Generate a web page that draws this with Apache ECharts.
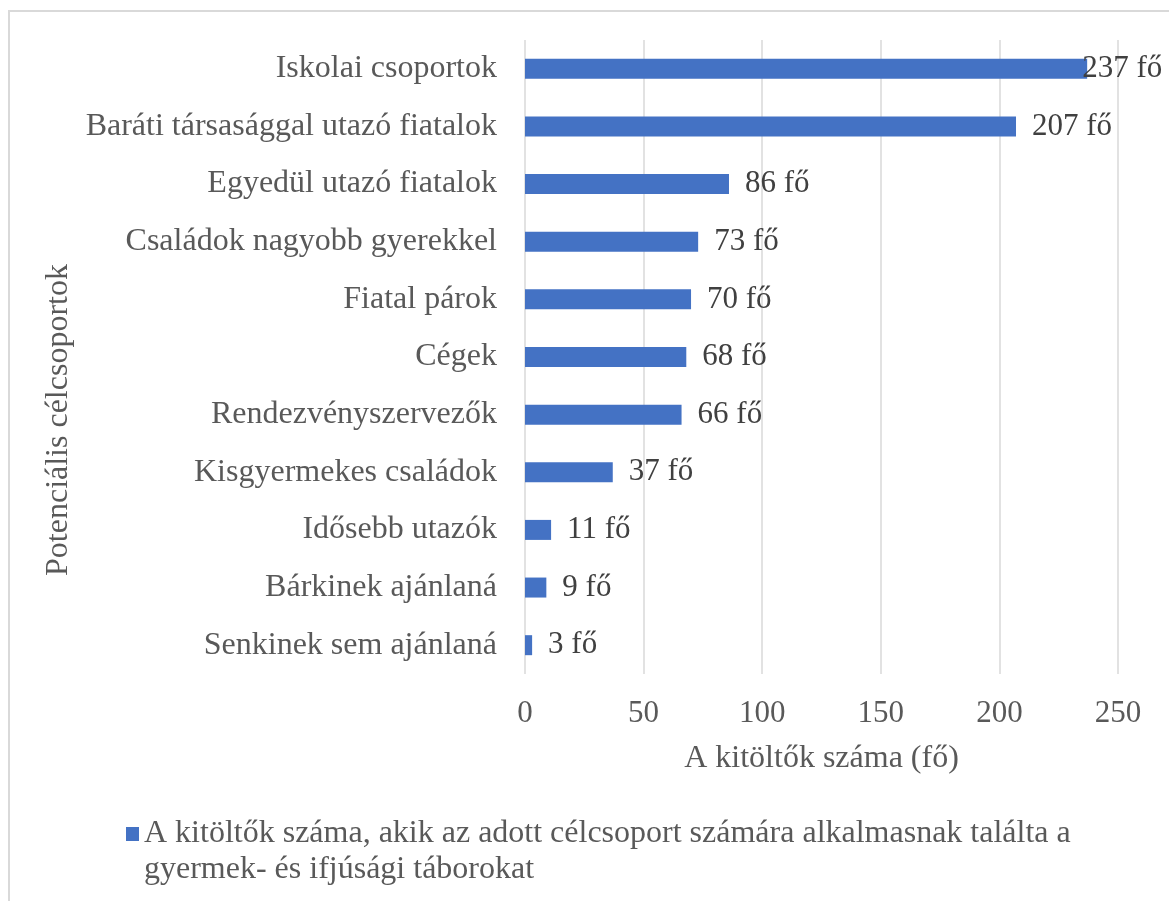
<!DOCTYPE html>
<html>
<head>
<meta charset="utf-8">
<script src="https://cdn.jsdelivr.net/npm/echarts@6/dist/echarts.min.js"></script>
<style>
  html, body { margin: 0; padding: 0; background: #fff; }
  .frame {
    position: absolute; left: 8px; top: 10px; width: 1180px; height: 900px;
    border-left: 2px solid #d9d9d9; border-top: 2px solid #d9d9d9;
  }
  #myChart { position: absolute; left: 0; top: 0; width: 1169px; height: 901px; }
</style>
</head>
<body>
<div class="frame"></div>
<div id="myChart"></div>
<script>
// célcsoportok (alulról felfelé, ahogy a kategória tengely rajzol)
const categories = [
  'Senkinek sem ajánlaná',
  'Bárkinek ajánlaná',
  'Idősebb utazók',
  'Kisgyermekes családok',
  'Rendezvényszervezők',
  'Cégek',
  'Fiatal párok',
  'Családok nagyobb gyerekkel',
  'Egyedül utazó fiatalok',
  'Baráti társasággal utazó fiatalok',
  'Iskolai csoportok'
];
const values = [3, 9, 11, 37, 66, 68, 70, 73, 86, 207, 237];
const xTicks = [0, 50, 100, 150, 200, 250];
const seriesName = 'A kitöltők száma, akik az adott célcsoport számára alkalmasnak találta a\ngyermek- és ifjúsági táborokat';
const xName = 'A kitöltők száma (fő)';
const yName = 'Potenciális célcsoportok';

const serif = '"Liberation Serif", "Times New Roman", serif';

let myChart = echarts.init(document.getElementById('myChart'));
myChart.setOption({
  animation: false,
  textStyle: { fontFamily: serif },
  grid: { left: 525, right: 51, top: 40, bottom: 227, containLabel: false },
  legend: {
    data: [seriesName],
    left: 121,
    top: 775,
    icon: 'rect',
    itemWidth: 13,
    itemHeight: 14,
    itemGap: 6,
    // üres első sor: így a jel az első szövegsor közepére kerül
    formatter: name => ' \n' + name,
    textStyle: {
      fontFamily: serif,
      fontSize: 32,
      color: '#595959',
      lineHeight: 36
    }
  },
  xAxis: {
    type: 'value',
    min: xTicks[0],
    max: xTicks[xTicks.length - 1],
    interval: 50,
    name: xName,
    nameLocation: 'center',
    nameGap: 69,
    nameTextStyle: { fontFamily: serif, fontSize: 32, color: '#595959' },
    axisLine: { show: false },
    axisTick: { show: false },
    axisLabel: { fontFamily: serif, fontSize: 31, color: '#595959', margin: 24 },
    splitLine: { show: true, lineStyle: { color: '#d9d9d9', width: 1.5 } }
  },
  yAxis: {
    type: 'category',
    data: categories,
    name: yName,
    nameLocation: 'center',
    nameRotate: 90,
    nameGap: 442,
    nameTextStyle: { fontFamily: serif, fontSize: 32, color: '#595959', padding: [0, 126, 0, 0] },
    axisLine: { show: false },
    axisTick: { show: false },
    axisLabel: { fontFamily: serif, fontSize: 32, color: '#595959', margin: 28 }
  },
  series: [
    {
      name: seriesName,
      type: 'bar',
      barWidth: 20,
      itemStyle: { color: '#4472C4' },
      label: {
        show: true,
        position: 'right',
        distance: 16,
        fontFamily: serif,
        fontSize: 31,
        color: '#404040',
        formatter: p => p.value + ' fő'
      },
      data: values.map((v, i) => i === values.length - 1 ? { value: v, label: { distance: -5 } } : v)
    }
  ]
});
</script>
</body>
</html>
